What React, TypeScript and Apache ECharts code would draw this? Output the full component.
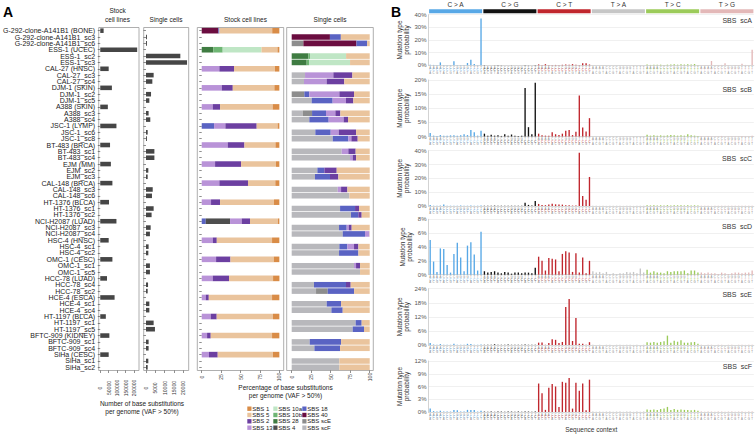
import { useEffect, useRef } from "react";
import * as echarts from "echarts";

const FONT = "'Liberation Sans', Arial, Helvetica, sans-serif";

// ---------------- Panel A data ----------------
const cellLines = ["G-292-clone-A141B1", "ESS-1", "CAL-27", "DJM-1", "A388", "JSC-1", "BT-483", "EJM", "CAL-148", "HT-1376", "NCI-H2087", "HSC-4", "OMC-1", "HCC-78", "HCE-4", "HT-1197", "BFTC-909", "SiHa"];
const tissues = ["BONE", "UCEC", "HNSC", "SKIN", "SKIN", "LYMP", "BRCA", "MM", "BRCA", "BLCA", "LUAD", "HNSC", "CESC", "LUAD", "ESCA", "BLCA", "KIDNEY", "CESC"];
const clones = ["sc3", "sc6", "sc2", "sc3", "sc3", "sc4", "sc2", "sc5", "sc3", "sc4", "sc6", "sc8", "sc1", "sc4", "sc2", "sc3", "sc3", "sc6", "sc1", "sc2", "sc3", "sc4", "sc1", "sc2", "sc1", "sc5", "sc4", "sc2", "sc1", "sc4", "sc1", "sc5", "sc1", "sc4", "sc1", "sc2"];

// substitutions per genome (VAF > 50%)
const stockSubs = [20000, 219000, 50000, 69000, 45000, 96000, 58000, 63000, 72000, 52000, 96000, 50000, 72000, 40000, 85000, 33000, 54000, 50000];
const singleSubs = [500, 500, 18400, 22000, 4100, 3400, 2700, 1800, 1400, 2300, 900, 500, 4500, 4500, 1250, 900, 3600, 3200, 4100, 3000, 2500, 2100, 1400, 1250, 2100, 2100, 1100, 900, 1800, 1800, 4100, 4800, 1400, 1400, 1250, 900];
const stockTicks = [0, 50000, 100000, 150000, 200000];
const singleTicks = [0, 5000, 10000, 15000, 20000];
const pctTicks = [0, 25, 50, 75, 100];

// signatures, in stacking order (left to right)
const sigNames = ["SBS scF", "SBS scE", "SBS 40", "SBS 28", "SBS 10b", "SBS 10a", "SBS 18", "SBS 4", "SBS 13", "SBS 2", "SBS 5", "SBS 1"];
const sigColors = ["#b8b8bc", "#8d8d8d", "#6b0d40", "#3f7c42", "#6fb674", "#bfe6c5", "#5a63c3", "#4e4e4e", "#b993d8", "#6c3fa1", "#eac49d", "#d98c47"];

// stock cell lines (% of substitutions)
const stockScF = [0, 0, 0, 0, 0, 0, 0, 0, 0, 0, 0, 0, 0, 0, 0, 0, 0, 0];
const stockScE = [0, 0, 0, 0, 0, 0, 0, 0, 0, 0, 0, 0, 0, 0, 0, 0, 0, 0];
const stockSBS40 = [21.5, 0, 0, 0, 0, 0, 0, 0, 0, 0, 0, 0, 0, 0, 0, 0, 0, 0];
const stockSBS28 = [0, 15, 0, 0, 0, 0, 0, 0, 0, 0, 0, 0, 0, 0, 0, 0, 0, 0];
const stockSBS10b = [0, 12, 0, 0, 0, 0, 0, 0, 0, 0, 0, 0, 0, 0, 0, 0, 0, 0];
const stockSBS10a = [0, 50, 0, 0, 0, 0, 0, 0, 0, 0, 0, 0, 0, 0, 0, 0, 0, 0];
const stockSBS18 = [1.3, 0, 0, 0, 0, 15.9, 0, 0, 0, 0, 5.2, 0, 0, 0, 0, 0, 0, 0];
const stockSBS4 = [0, 0, 0, 0, 0, 0, 0, 0, 0, 0, 31.3, 0, 0, 0, 0, 0, 0, 0];
const stockSBS13 = [0, 0, 22.7, 25.8, 14.2, 14.6, 33.5, 17.2, 22.7, 12, 15, 14.2, 18.5, 14.2, 5.2, 11.6, 6.9, 9.4];
const stockSBS2 = [0, 0, 18.9, 14.2, 9.4, 40.3, 21.5, 33.5, 36.9, 11.6, 10.7, 5.2, 18.5, 21, 3.9, 7.7, 4.7, 11.2];
const stockSBS5 = [68, 20.6, 52.8, 53.6, 67.8, 27, 40, 45, 35.2, 69.5, 36, 71.2, 55.8, 56.7, 81.5, 72.5, 79, 71.2];
const stockSBS1 = [9.2, 2.4, 5.6, 6.4, 8.6, 2.2, 5, 4.3, 5.2, 6.9, 1.8, 9.4, 7.2, 8.2, 9.4, 8.2, 9.4, 8.2];

// single cells (% of substitutions)
const singleScF = [0, 0, 0, 0, 17.1, 15.8, 0, 25.6, 14.1, 22.6, 30.3, 52.6, 64.1, 74.8, 32.9, 29.9, 59, 73.9, 62, 76, 60.7, 65.4, 61.1, 60.7, 79.9, 87.6, 28.6, 31.2, 44.9, 50.9, 82, 78.2, 23.1, 29.1, 61.1, 61.1];
const singleScE = [0, 15, 0, 0, 0, 0, 16.2, 0, 12, 0, 0, 0, 0, 0, 0, 0, 0, 0, 0, 0, 0, 0, 0, 0, 0, 0, 0, 15, 0, 0, 0, 0, 0, 0, 0, 0];
const singleSBS40 = [49, 68, 0, 0, 0, 0, 0, 0, 0, 0, 0, 0, 0, 0, 0, 0, 0, 0, 0, 0, 0, 0, 0, 0, 0, 0, 0, 0, 0, 0, 0, 0, 0, 0, 0, 0];
const singleSBS28 = [0, 0, 21.4, 19.2, 0, 0, 0, 0, 0, 0, 0, 0, 0, 0, 0, 0, 0, 0, 0, 0, 0, 0, 0, 0, 0, 0, 0, 0, 0, 0, 0, 0, 0, 0, 0, 0];
const singleSBS10b = [0, 0, 2.1, 3, 0, 0, 0, 0, 0, 0, 0, 0, 0, 0, 0, 0, 0, 0, 0, 0, 0, 0, 0, 0, 0, 0, 0, 0, 0, 0, 0, 0, 0, 0, 0, 0];
const singleSBS10a = [0, 0, 46.2, 52.6, 0, 0, 0, 0, 0, 0, 0, 0, 0, 0, 0, 0, 0, 0, 0, 0, 0, 0, 0, 0, 0, 0, 0, 0, 0, 0, 0, 0, 0, 0, 0, 0];
const singleSBS18 = [14, 13.7, 0, 0, 0, 0, 6.4, 26.9, 17.9, 24.8, 19.7, 20.1, 0, 0, 9, 19.2, 0, 0, 19.2, 9.4, 9.8, 28.6, 10.3, 24.8, 0, 0, 41, 33.8, 18.4, 14.5, 7.7, 14.5, 40.2, 32.9, 0, 0];
const singleSBS4 = [0, 0, 0, 0, 0, 0, 0, 0, 0, 0, 0, 0, 0, 0, 0, 0, 0, 0, 0, 0, 0, 0, 0, 0, 0, 0, 0, 0, 0, 0, 0, 0, 0, 0, 0, 0];
const singleSBS13 = [0, 0, 0, 0, 36.3, 29, 38.5, 17.1, 12, 19.2, 10.3, 3.8, 8.5, 3.4, 0, 0, 4.3, 0, 0, 0, 2.6, 5.6, 8.5, 0, 2.6, 0, 0, 0, 0, 0, 0, 0, 0, 0, 0, 0];
const singleSBS2 = [0, 0, 0, 0, 24.4, 22.6, 18.8, 9.4, 6.4, 5.6, 22.2, 8.1, 9.4, 4.3, 15.8, 10.7, 8.1, 0, 5.1, 4.3, 3.8, 0, 5.6, 0, 5.1, 0, 6, 0, 0, 0, 0, 0, 0, 0, 0, 0];
const singleSBS5 = [37, 3.3, 30.3, 25.2, 22.2, 32.6, 20.1, 21, 37.6, 27.8, 17.5, 15.4, 18, 17.5, 42.3, 40.2, 28.6, 26.1, 13.7, 10.3, 23.1, 0.4, 14.5, 14.5, 12.4, 12.4, 24.4, 20, 36.7, 34.6, 10.3, 7.3, 36.7, 38, 38.9, 38.9];
const singleSBS1 = [0, 0, 0, 0, 0, 0, 0, 0, 0, 0, 0, 0, 0, 0, 0, 0, 0, 0, 0, 0, 0, 0, 0, 0, 0, 0, 0, 0, 0, 0, 0, 0, 0, 0, 0, 0];

const stockMix = [stockScF, stockScE, stockSBS40, stockSBS28, stockSBS10b, stockSBS10a, stockSBS18, stockSBS4, stockSBS13, stockSBS2, stockSBS5, stockSBS1];
const singleMix = [singleScF, singleScE, singleSBS40, singleSBS28, singleSBS10b, singleSBS10a, singleSBS18, singleSBS4, singleSBS13, singleSBS2, singleSBS5, singleSBS1];

// legend layout (columns)
const legendColumns = [["SBS 1", "SBS 5", "SBS 2", "SBS 13"], ["SBS 10a", "SBS 10b", "SBS 28", "SBS 4"], ["SBS 18", "SBS 40", "SBS scE", "SBS scF"]];

// ---------------- Panel B data ----------------
const mutationTypes = ["C > A", "C > G", "C > T", "T > A", "T > C", "T > G"];
const mutColors = ["#58a8e6", "#111111", "#c0262d", "#c6c6c6", "#9ccb5a", "#e3b8b8"];
const bases = ["A", "C", "G", "T"];
const sigLabels = ["SBS  scA", "SBS  scB", "SBS  scC", "SBS  scD", "SBS  scE", "SBS  scF"];
const sigMax = [40, 20, 40, 8, 24, 12];
const sigInterval = [10, 5, 10, 2, 6, 3];

const scA = [0.5, 0.3, 0.2, 2.3, 0.2, 0.3, 0.2, 3.2, 0.2, 0.2, 0.3, 1.8, 4.4, 1.0, 0.2, 37,
  0.2, 0.1, 0.1, 0.1, 0.2, 0.1, 0.1, 0.1, 0.1, 0.1, 0.1, 0.1, 0.2, 0.1, 0.1, 0.2,
  0.7, 0.3, 0.9, 0.3, 0.2, 0.3, 0.2, 0.4, 0.7, 0.4, 0.9, 0.4, 0.3, 1.6, 1.6, 0.6,
  0.2, 0.1, 0.1, 0.2, 0.1, 0.1, 0.1, 0.1, 0.2, 0.1, 0.1, 0.1, 0.1, 0.1, 0.2, 0.1,
  0.6, 0.3, 0.5, 0.4, 0.5, 0.3, 0.5, 0.6, 0.8, 0.5, 0.9, 0.6, 0.8, 0.7, 1.0, 0.3,
  0.2, 0.2, 0.3, 3.4, 0.2, 0.2, 0.3, 1.6, 0.2, 0.1, 0.2, 0.2, 1.3, 0.3, 0.2, 12.3];
const scB = [1.2, 0.3, 0.2, 0.5, 0.3, 0.3, 0.4, 0.4, 0.3, 0.4, 0.8, 0.5, 2.3, 1.5, 0.3, 2.0,
  1.0, 0.3, 0.6, 0.3, 0.4, 0.2, 0.8, 0.3, 0.7, 0.3, 0.2, 0.3, 17.2, 3.3, 0.8, 19.0,
  1.0, 0.4, 0.3, 0.3, 1.5, 0.8, 0.5, 1.0, 2.0, 2.3, 0.5, 1.7, 14.5, 3.2, 1.8, 6.5,
  0.1, 0.05, 0.1, 0.05, 0.1, 0.05, 0.1, 0.1, 0.05, 0.1, 0.05, 0.1, 0.1, 0.05, 0.1, 0.1,
  0.6, 0.3, 0.4, 0.3, 0.4, 0.3, 0.4, 0.5, 0.4, 0.3, 0.4, 0.3, 0.8, 0.4, 0.3, 0.2,
  0.2, 0.1, 0.2, 0.1, 0.1, 0.1, 0.2, 0.1, 0.1, 0.1, 0.1, 0.1, 0.2, 0.1, 0.1, 0.3];
const scC = [0.8, 0.2, 0.2, 0.3, 1.0, 0.2, 0.2, 0.2, 0.2, 0.3, 0.2, 0.2, 0.3, 0.2, 0.2, 0.3,
  0.2, 0.2, 0.2, 0.3, 0.2, 0.2, 0.2, 0.2, 0.2, 0.2, 0.2, 0.2, 2.4, 0.8, 0.3, 3.6,
  1.5, 0.8, 0.6, 1.0, 1.6, 1.2, 1.0, 1.0, 0.6, 0.6, 0.3, 0.4, 38.5, 7.2, 4.6, 21,
  0.2, 0.1, 0.1, 0.2, 0.1, 0.1, 0.1, 0.2, 0.1, 0.1, 0.2, 0.1, 0.1, 0.1, 0.2, 0.1,
  0.6, 0.4, 0.6, 0.4, 0.5, 0.4, 0.6, 0.4, 0.5, 0.5, 0.6, 0.4, 0.5, 0.3, 0.5, 0.3,
  0.2, 0.1, 0.2, 0.1, 0.2, 0.1, 0.2, 0.1, 0.2, 0.1, 0.1, 0.2, 0.1, 0.2, 0.1, 0.2];
const scD = [5.0, 1.9, 0.4, 3.8, 3.7, 1.4, 0.3, 3.0, 4.6, 2.5, 0.5, 4.2, 4.7, 2.9, 0.6, 6.2,
  0.5, 0.3, 0.4, 0.5, 0.3, 0.2, 0.4, 0.3, 0.15, 0.3, 0.3, 0.2, 0.3, 0.3, 0.2, 1.0,
  2.6, 2.0, 0.6, 2.4, 2.3, 2.2, 0.5, 3.0, 3.4, 3.2, 0.4, 3.1, 0.3, 2.5, 0.2, 2.0,
  0.5, 0.3, 0.4, 0.2, 0.4, 0.1, 0.2, 0.1, 0.2, 0.2, 0.4, 0.3, 0.4, 0.2, 0.9, 0.3,
  0.7, 0.3, 0.5, 0.3, 0.3, 0.2, 0.5, 0.4, 0.5, 0.5, 0.5, 0.6, 0.2, 0.6, 0.6, 0.3,
  0.3, 0.2, 0.3, 0.2, 0.2, 0.1, 0.3, 0.2, 0.1, 0.2, 0.3, 0.3, 0.2, 0.3, 0.3, 0.6];
const scE = [0.8, 0.2, 0.1, 0.4, 0.1, 0.1, 0.1, 0.5, 0.1, 0.1, 0.1, 0.5, 0.4, 0.1, 0.1, 0.2,
  0.1, 0.1, 0.1, 0.3, 0.1, 0.1, 0.1, 0.2, 0.1, 0.1, 0.1, 0.1, 0.2, 0.1, 0.1, 0.1,
  1.0, 1.1, 0.1, 0.8, 2.5, 2.2, 0.8, 1.3, 16.2, 19.6, 1.7, 11.5, 0.5, 0.5, 0.1, 1.2,
  0.1, 0.05, 0.1, 0.05, 0.1, 0.1, 0.05, 0.1, 0.1, 0.05, 0.1, 0.1, 0.05, 0.1, 0.05, 0.1,
  1.2, 1.0, 1.3, 1.0, 1.3, 1.6, 4.0, 1.0, 1.8, 1.4, 2.0, 1.0, 1.0, 1.2, 1.3, 0.5,
  0.1, 0.05, 0.1, 0.1, 0.05, 0.1, 0.1, 0.05, 0.1, 0.1, 0.05, 0.1, 0.1, 0.05, 0.1, 0.1];
const scF = [0.8, 0.2, 0.1, 0.3, 0.1, 0.1, 0.1, 0.5, 0.4, 0.1, 0.1, 0.5, 0.5, 0.5, 0.1, 0.3,
  0.1, 0.05, 0.1, 0.05, 0.1, 0.1, 0.05, 0.1, 0.1, 0.05, 0.1, 0.05, 0.1, 0.1, 0.05, 0.1,
  6.7, 4.4, 0.5, 5.7, 6.6, 6.0, 1.2, 7.1, 6.9, 8.0, 0.8, 6.9, 5.0, 6.7, 0.4, 7.6,
  0.1, 0.05, 0.1, 0.05, 0.1, 0.1, 0.05, 0.1, 0.1, 0.05, 0.1, 0.1, 0.05, 0.1, 0.05, 0.1,
  0.6, 0.5, 0.6, 0.5, 0.7, 0.8, 1.2, 0.5, 0.7, 0.5, 0.6, 0.5, 0.5, 0.4, 0.5, 0.3,
  0.1, 0.05, 0.1, 0.1, 0.05, 0.1, 0.1, 0.05, 0.1, 0.1, 0.05, 0.1, 0.1, 0.05, 0.1, 0.1];
const sigProfiles = [scA, scB, scC, scD, scE, scF];

// ---------------- layout ----------------
const A_TOP = 27.5;
const A_H = 343;
const B_LEFT = 428.5;
const B_W = 325.5;
const B_TOPS = [14.7, 80, 150.7, 219.3, 288.7, 361];
const B_BOTTOMS = [65.3, 136.5, 206, 274.7, 345, 413.3];
const B_TITLE_DY = [6, 9, 7.6, 7.4, 5.8, 5.8];

function buildOption() {
  const rowLabels: string[] = [];
  const rowKind: string[] = [];
  const rowIdx: number[] = [];
  cellLines.forEach((line, i) => {
    rowLabels.push(`${line} (${tissues[i]})`);
    rowKind.push("stock");
    rowIdx.push(i);
    for (let k = 0; k < 2; k++) {
      rowLabels.push(`${line}_${clones[2 * i + k]}`);
      rowKind.push("single");
      rowIdx.push(2 * i + k);
    }
  });
  const byRow = (arr: number[], kind: string) =>
    rowLabels.map((_, r) => {
      if (rowKind[r] !== kind) return "-";
      const v = arr[rowIdx[r]];
      return v ? v : "-";
    });

  const contexts: string[] = [];
  mutationTypes.forEach((mt) => {
    const ref = mt[0];
    bases.forEach((b5) => bases.forEach((b3) => contexts.push(b5 + ref + b3)));
  });

  const tickColor = "#444";
  const catY = (gridIndex: number, showLabel: boolean, showTick: boolean) => ({
    type: "category",
    gridIndex,
    data: rowLabels,
    inverse: true,
    axisLine: { show: false },
    axisTick: { show: showTick, alignWithLabel: true, interval: 0, length: 2.5, lineStyle: { color: tickColor, width: 0.6 } },
    axisLabel: { show: showLabel, interval: 0, fontSize: 7, margin: 3.5, color: "#222" },
    splitLine: { show: false },
  });
  const valX = (gridIndex: number, min: number, max: number, ticks: number[], margin: number) => ({
    type: "value",
    gridIndex,
    min,
    max,
    splitLine: { show: false },
    axisLine: { show: false },
    axisTick: { show: true, customValues: ticks, length: 2.5, lineStyle: { color: tickColor, width: 0.6 } },
    axisLabel: { customValues: ticks, rotate: 90, align: "center", margin, fontSize: 5, color: "#333", formatter: (v: number) => String(v) },
  });

  const boxStyle = { show: true, borderColor: "#9a9a9a", borderWidth: 0.8, backgroundColor: "transparent" };
  const grids: any[] = [
    { left: 95, top: A_TOP, width: 44, height: A_H, ...boxStyle },
    { left: 143.7, top: A_TOP, width: 45, height: A_H, ...boxStyle },
    { left: 197.3, top: A_TOP, width: 86.4, height: A_H, ...boxStyle },
    { left: 286.7, top: A_TOP, width: 86.6, height: A_H, ...boxStyle },
  ];
  B_TOPS.forEach((t, i) => grids.push({ left: B_LEFT, top: t, width: B_W, height: B_BOTTOMS[i] - t }));

  const xAxes: any[] = [
    valX(0, -9200, 229800, stockTicks, 17.5),
    valX(1, -1230, 22885, singleTicks, 17.5),
    valX(2, -5.7, 105.6, pctTicks, 6.5),
    valX(3, -6.4, 104.6, pctTicks, 6.5),
  ];
  const yAxes: any[] = [catY(0, true, true), catY(1, false, true), catY(2, false, true), catY(3, false, false)];

  const rich: any = { a: { fontSize: 2.8, lineHeight: 2.3, color: "#8a8a8a", fontFamily: FONT } };
  mutColors.forEach((c, i) => (rich["m" + i] = { fontSize: 2.8, lineHeight: 2.3, color: c, fontFamily: FONT }));

  sigProfiles.forEach((_, i) => {
    const gi = 4 + i;
    const last = i === sigProfiles.length - 1;
    xAxes.push({
      type: "category",
      gridIndex: gi,
      data: contexts,
      axisLine: { show: true, lineStyle: { color: "#c8c8c8", width: 0.6 } },
      axisTick: { show: false },
      axisLabel: {
        interval: 0,
        margin: 1.2,
        formatter: (v: string, idx: number) => `{a|${v[0]}}\n{m${Math.floor(idx / 16)}|${v[1]}}\n{a|${v[2]}}`,
        rich,
      },
      name: last ? "Sequence context" : "",
      nameLocation: "middle",
      nameGap: 14,
      nameTextStyle: { fontSize: 6.5, color: "#333" },
    });
    yAxes.push({
      type: "value",
      gridIndex: gi,
      min: 0,
      max: sigMax[i],
      interval: sigInterval[i],
      axisLine: { show: true, lineStyle: { color: "#c8c8c8", width: 0.8 } },
      axisTick: { show: false },
      splitLine: { show: true, lineStyle: { color: "#e6e6e6", width: 0.6 } },
      axisLabel: { formatter: "{value}%", fontSize: 6, color: "#555", margin: 2 },
      name: "Mutation type\nprobability",
      nameLocation: "middle",
      nameRotate: 90,
      nameGap: 15,
      nameTextStyle: { fontSize: 6.5, lineHeight: 7.5, color: "#333" },
    });
  });

  const series: any[] = [
    { type: "bar", xAxisIndex: 0, yAxisIndex: 0, data: byRow(stockSubs, "stock"), barWidth: "72%", itemStyle: { color: "#464646" } },
    { type: "bar", xAxisIndex: 1, yAxisIndex: 1, data: byRow(singleSubs, "single"), barWidth: "72%", itemStyle: { color: "#464646" } },
  ];
  sigNames.forEach((name, s) => {
    series.push({ type: "bar", name, stack: "stock", xAxisIndex: 2, yAxisIndex: 2, barWidth: "88%", data: byRow(stockMix[s], "stock"), itemStyle: { color: sigColors[s] } });
  });
  sigNames.forEach((name, s) => {
    series.push({ type: "bar", name, stack: "single", xAxisIndex: 3, yAxisIndex: 3, barWidth: "88%", data: byRow(singleMix[s], "single"), itemStyle: { color: sigColors[s] } });
  });
  sigProfiles.forEach((prof, i) => {
    series.push({
      type: "bar",
      name: sigLabels[i],
      xAxisIndex: 4 + i,
      yAxisIndex: 4 + i,
      data: prof,
      barWidth: "40%",
      itemStyle: { color: (p: any) => mutColors[Math.floor(p.dataIndex / 16)] },
    });
  });

  // ---- graphic: titles, headers, legend ----
  const txt = (x: number, y: number, text: string, extra: any = {}) => ({
    type: "text",
    x,
    y,
    silent: true,
    style: { text, fontSize: 6.5, fontFamily: FONT, fill: "#222", align: "center", verticalAlign: "middle", ...extra },
  });
  const graphic: any[] = [
    txt(3, 12, "A", { fontSize: 14, fontWeight: "bold", align: "left", fill: "#000" }),
    txt(391, 12, "B", { fontSize: 14, fontWeight: "bold", align: "left", fill: "#000" }),
    txt(117.5, 15, "Stock\ncell lines", { lineHeight: 8.2 }),
    txt(166, 19, "Single cells"),
    txt(245.5, 19, "Stock cell lines"),
    txt(330, 19, "Single cells"),
    txt(142, 407, "Number of base substitutions\nper genome (VAF > 50%)", { lineHeight: 8 }),
    txt(285.5, 391.5, "Percentage of base substitutions\nper genome (VAF > 50%)", { lineHeight: 7.5 }),
  ];
  const w6 = B_W / 6;
  mutationTypes.forEach((mt, c) => {
    const x0 = B_LEFT + c * w6;
    graphic.push({ type: "rect", silent: true, shape: { x: x0 + 0.6, y: 9.3, width: w6 - 1.2, height: 4 }, style: { fill: mutColors[c] } });
    graphic.push(txt(x0 + w6 / 2, 4.6, mt, { fontSize: 6.5, fill: "#333" }));
  });
  sigLabels.forEach((lab, i) => {
    graphic.push(txt(752, B_TOPS[i] + B_TITLE_DY[i], lab, { fontSize: 7, align: "right", fill: "#333" }));
  });
  const legendX = [247.3, 273.3, 302.3];
  const legendY = [408.7, 415, 421.3, 427.7];
  legendColumns.forEach((col, ci) => {
    col.forEach((name, ri) => {
      const color = sigColors[sigNames.indexOf(name)];
      graphic.push({ type: "rect", silent: true, shape: { x: legendX[ci], y: legendY[ri] - 2.2, width: 4.2, height: 4.4 }, style: { fill: color } });
      graphic.push(txt(legendX[ci] + 5, legendY[ri], name, { fontSize: 6, align: "left", fill: "#222" }));
    });
  });

  return {
    animation: false,
    backgroundColor: "#ffffff",
    textStyle: { fontFamily: FONT },
    grid: grids,
    xAxis: xAxes,
    yAxis: yAxes,
    series,
    graphic,
  };
}

export default function App() {
  const ref = useRef<HTMLDivElement>(null);
  useEffect(() => {
    if (!ref.current) return;
    const chart = echarts.init(ref.current, null, { renderer: "svg" });
    chart.setOption(buildOption() as any);
    return () => chart.dispose();
  }, []);
  return <div ref={ref} style={{ position: "absolute", left: 0, top: 0, width: 756, height: 434, background: "#fff" }} />;
}
